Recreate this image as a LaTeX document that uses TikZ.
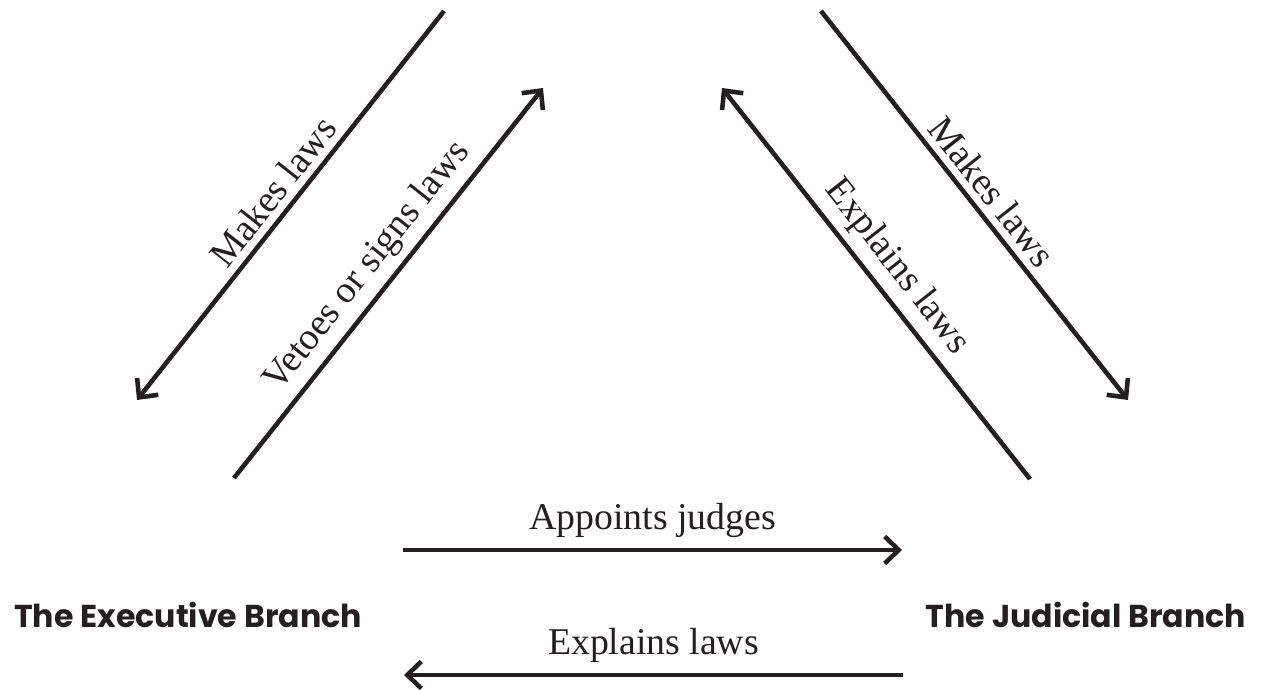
\documentclass[tikz,border=0pt]{standalone}
\usepackage{fontspec}
\setmainfont{Liberation Serif}
\newfontfamily\branchfont{Poppins}
\usetikzlibrary{arrows.meta}
\definecolor{ink}{HTML}{231F20}

\begin{document}
\begin{tikzpicture}[x=0.02cm, y=0.02cm]
\tikzset{fleche/.style={draw=ink, line width=2.6pt, -{Straight Barb[length=0.28cm, width=0.54cm]}},
  etiquette/.style={text=ink, font=\fontsize{21.5}{24}\selectfont, inner sep=4pt},
  branche/.style={text=ink, font=\branchfont\bfseries\fontsize{18}{20}\selectfont, anchor=base}}
\useasboundingbox (0,0) rectangle (1262,690);
\node[branche] (E) at (188,62) {The Executive Branch};
\node[branche] (J) at (1086,62) {The Judicial Branch};
\coordinate (L1) at (444,679);
\coordinate (L2) at (137,290);
\coordinate (V1) at (234,212);
\coordinate (V2) at (543,602);
\coordinate (X1) at (1030,211);
\coordinate (X2) at (722,602);
\coordinate (M1) at (821,679);
\coordinate (M2) at (1128,290);
\coordinate (A1) at (403,140);
\coordinate (A2) at (902,140);
\coordinate (B1) at (903,15);
\coordinate (B2) at (404,15);
\draw[fleche] (L1) -- node[etiquette, midway, above, sloped] {Makes laws} (L2);
\draw[fleche] (V1) -- node[etiquette, midway, above, sloped] {Vetoes or signs laws} (V2);
\draw[fleche] (X1) -- node[etiquette, midway, above, sloped] {Explains laws} (X2);
\draw[fleche] (M1) -- node[etiquette, midway, above, sloped] {Makes laws} (M2);
\draw[fleche] (A1) -- node[etiquette, midway, above, inner sep=6pt] {Appoints judges} (A2);
\draw[fleche] (B1) -- node[etiquette, midway, above, inner sep=6pt] {Explains laws} (B2);
\end{tikzpicture}
\end{document}
